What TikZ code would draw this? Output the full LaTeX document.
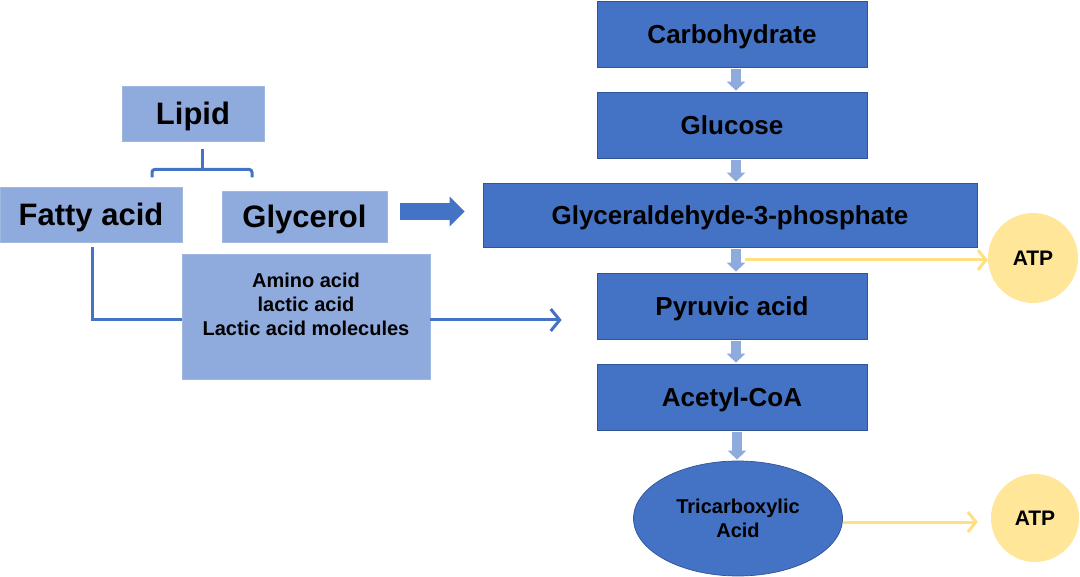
\documentclass[tikz,border=0pt]{standalone}
\usepackage{fontspec}
\setmainfont{Liberation Sans}
\usetikzlibrary{arrows.meta,shapes.geometric}
\definecolor{dblue}{HTML}{4472C4}
\definecolor{lblue}{HTML}{8FAADC}
\definecolor{dborder}{HTML}{2F5597}
\definecolor{ylw}{HTML}{FFE699}
\definecolor{ylwline}{HTML}{FFDF80}
\begin{document}
\begin{tikzpicture}[x=1pt,y=-1pt,
  darkbox/.style={rectangle, fill=dblue, draw=dborder, line width=0.7pt, inner sep=0pt,
    font=\bfseries\fontsize{26}{31}\selectfont, text height=18.6pt, text depth=0pt},
  lightbox/.style={rectangle, fill=lblue, draw=lblue!85!white, line width=0.7pt, inner sep=0pt,
    font=\bfseries\fontsize{31}{37}\selectfont, text height=22.2pt, text depth=0pt},
  atpnode/.style={circle, fill=ylw, draw=none, inner sep=0pt, minimum size=#1,
    font=\bfseries\fontsize{21}{25}\selectfont, text height=15pt, text depth=0pt},
  downarrow/.style={draw=lblue, line width=10pt, -{Triangle[width=18pt,length=9pt]},
    shorten <=2pt, shorten >=1pt},
  blockarrow/.style={draw=dblue, line width=17pt, -{Triangle[width=29pt,length=15pt]}},
  bline/.style={draw=dblue, line width=3pt},
  ylwarrow/.style={draw=ylwline, line width=3pt, -{Straight Barb[length=8pt,width=20pt]}},
]
\useasboundingbox (0,0) rectangle (1080,577);

% right column
\node[darkbox, minimum width=270pt, minimum height=66pt] (carb) at (732,34) {Carbohydrate};
\node[darkbox, minimum width=270pt, minimum height=66pt] (gluc) at (732,125) {Glucose};
\node[darkbox, minimum width=494pt, minimum height=64pt] (g3p) at (730,215) {Glyceraldehyde-3-phosphate};
\node[darkbox, minimum width=270pt, minimum height=66pt] (pyr) at (732,306) {Pyruvic acid};
\node[darkbox, minimum width=270pt, minimum height=66pt] (acet) at (732,397) {Acetyl-CoA};
\node[ellipse, fill=dblue, draw=dborder, line width=0.7pt, inner sep=0pt,
  minimum width=209pt, minimum height=115pt, align=center,
  font=\bfseries\fontsize{20}{24}\selectfont] (tca) at (738,518.5) {Tricarboxylic\\Acid};
\node[atpnode=90pt] (atp1) at (1033,258) {ATP};
\node[atpnode=88pt] (atp2) at (1035,518) {ATP};

% left part
\node[lightbox, minimum width=142pt, minimum height=55pt] (lipid) at (193,113.5) {Lipid};
\node[lightbox, minimum width=182pt, minimum height=55pt] (fatty) at (91,214.5) {Fatty acid};
\node[lightbox, minimum width=165pt, minimum height=51pt] (glyc) at (304.5,216.5) {Glycerol};
\node[rectangle, fill=lblue, draw=lblue!85!white, line width=0.7pt, inner sep=0pt,
  minimum width=248pt, minimum height=125pt, align=center,
  font=\bfseries\fontsize{20}{24}\selectfont] (amino) at (306,316.5)
  {Amino acid\\lactic acid\\Lactic acid molecules\\\mbox{}};

% down arrows
\draw[downarrow] ([xshift=4pt]carb.south) -- ([xshift=4pt]gluc.north);
\draw[downarrow] ([xshift=4pt]gluc.south) -- ([xshift=4pt]g3p.north -| gluc.north);
\coordinate (g3pout) at ([xshift=4pt]pyr.north |- g3p.south);
\draw[downarrow] (g3pout) -- ([xshift=4pt]pyr.north);
\draw[downarrow] ([xshift=4pt]pyr.south) -- ([xshift=4pt]acet.north);
\draw[downarrow] ([xshift=5pt]acet.south) -- ([xshift=-1pt]tca.north);

% yellow arrows
\coordinate (y1) at (745,260);
\draw[ylwarrow] (y1) -- (y1 -| atp1.west);
\draw[ylwarrow, shorten >=13pt] ([yshift=-3.5pt]tca.east) -- ([yshift=-3.5pt]tca.east -| atp2.west);

% glycerol to G3P
\draw[blockarrow] ([xshift=13pt,yshift=5pt]glyc.east) -- ([xshift=-18pt,yshift=3.5pt]g3p.west);

% bracket under lipid
\coordinate (bt) at ([xshift=9pt,yshift=-8pt]lipid.south);
\draw[bline] (bt) -- ++(0,20);
\draw[bline, rounded corners=3pt] ([xshift=-50pt]bt) ++(0,28) -- ++(0,-8) -- ++(100,0) -- ++(0,8);

% fatty acid line and amino arrow
\coordinate (amin) at ([yshift=-3.5pt]amino.west);
\draw[bline] ([xshift=1pt,yshift=-5pt]fatty.south) |- (amin);
\coordinate (amout) at ([yshift=-3.5pt]amino.east);
\coordinate (aend) at ([xshift=-35pt]pyr.west);
\draw[bline, -{Straight Barb[length=9pt,width=22pt]}] (amout) -- (amout -| aend);
\end{tikzpicture}
\end{document}
